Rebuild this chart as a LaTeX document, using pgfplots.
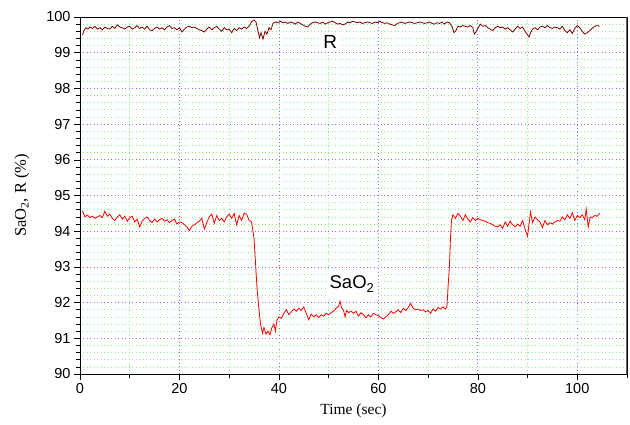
\documentclass[border=0pt]{standalone}
\usepackage{fontspec}
\setmainfont{Liberation Serif}
\newfontfamily\arial{Liberation Sans}
\usepackage{pgfplots}
\pgfplotsset{compat=1.18}
\definecolor{rcol}{RGB}{128,0,0}
\definecolor{scol}{RGB}{255,0,0}
\definecolor{mgrid}{RGB}{120,120,255}
\definecolor{ngrid}{RGB}{140,240,140}
\begin{document}
\begin{tikzpicture}
\begin{axis}[
  scale only axis, width=547pt, height=357pt,
  xmin=0, xmax=110, ymin=90, ymax=100,
  xtick={0,20,...,100}, minor xtick={10,30,...,110},
  ytick={90,91,...,100}, minor y tick num=4,
  grid=both,
  major grid style={mgrid, line width=0.7pt, dash pattern=on 0.9pt off 2.6pt},
  minor grid style={ngrid, line width=0.7pt, dash pattern=on 0.9pt off 2.6pt},
  tick align=outside, tick pos=left,
  major tick length=6pt, minor tick length=4pt,
  tick style={black, line width=0.6pt},
  axis line style={line width=0.7pt},
  ticklabel style={font=\arial\fontsize{14.5}{16}\selectfont},
  /pgf/number format/assume math mode=true,
  xlabel={Time (sec)}, ylabel={SaO\textsubscript{2}, R (\%)},
  xlabel style={font=\fontsize{15.5}{17}\selectfont, at={(axis description cs:0.5,-0.104)}, anchor=center},
  ylabel style={font=\fontsize{16.5}{18}\selectfont, at={(axis description cs:-0.106,0.5)}, anchor=center},
]
\addplot[scol, line width=0.8pt] coordinates {
(0.5,94.57)(1.0,94.40)(1.5,94.45)(2.0,94.38)(2.5,94.42)(3.0,94.36)(3.5,94.40)(4.0,94.44)(4.5,94.38)(5.0,94.56)
(5.5,94.42)(6.0,94.48)(6.5,94.36)(7.0,94.30)(7.5,94.40)(8.0,94.46)(8.5,94.34)(9.0,94.42)(9.5,94.28)(10.0,94.38)
(10.5,94.42)(11.0,94.26)(11.5,94.34)(12.0,94.12)(12.5,94.28)(13.0,94.36)(13.5,94.40)(14.0,94.30)(14.5,94.24)(15.0,94.34)
(15.5,94.26)(16.0,94.32)(16.5,94.36)(17.0,94.28)(17.5,94.32)(18.0,94.24)(18.5,94.30)(19.0,94.34)(19.5,94.20)(20.0,94.26)
(20.5,94.24)(21.0,94.18)(21.5,94.12)(22.0,94.02)(22.5,94.14)(23.0,94.18)(23.5,94.24)(24.0,94.28)(24.5,94.36)(25.0,94.06)
(25.5,94.24)(26.0,94.40)(26.5,94.48)(27.0,94.22)(27.5,94.44)(28.0,94.30)(28.5,94.36)(29.0,94.26)(29.5,94.40)(30.0,94.48)
(30.5,94.36)(31.0,94.50)(31.5,94.18)(32.0,94.44)(32.5,94.30)(33.0,94.50)(33.5,94.48)(34.0,94.30)(34.5,94.26)(35.0,93.80)
(35.3,93.10)(35.6,92.40)(36.0,91.80)(36.3,91.40)(36.7,91.14)(37.0,91.30)(37.4,91.12)(37.8,91.20)(38.2,91.10)(38.6,91.30)
(39.0,91.40)(39.3,91.20)(39.6,91.50)(40.0,91.60)(40.5,91.56)(41.0,91.70)(41.5,91.80)(42.0,91.66)(42.5,91.74)(43.0,91.82)
(43.5,91.76)(44.0,91.84)(44.5,91.78)(45.0,91.88)(45.5,91.70)(46.0,91.52)(46.5,91.68)(47.0,91.60)(47.5,91.66)(48.0,91.58)
(48.5,91.66)(49.0,91.62)(49.5,91.70)(50.0,91.66)(50.5,91.72)(51.0,91.76)(51.5,91.84)(52.0,91.90)(52.3,92.04)(52.6,91.86)
(53.0,91.78)(53.3,91.60)(53.6,91.78)(54.0,91.72)(54.5,91.76)(55.0,91.70)(55.5,91.76)(56.0,91.62)(56.5,91.72)(57.0,91.66)
(57.5,91.58)(58.0,91.66)(58.5,91.60)(59.0,91.70)(59.5,91.66)(60.0,91.64)(60.5,91.58)(61.0,91.54)(61.5,91.60)(62.0,91.66)
(62.5,91.76)(63.0,91.70)(63.5,91.74)(64.0,91.80)(64.5,91.72)(65.0,91.84)(65.5,91.78)(66.0,91.86)(66.5,91.98)(67.0,91.84)
(67.5,91.80)(68.0,91.82)(68.5,91.78)(69.0,91.80)(69.5,91.74)(70.0,91.78)(70.5,91.70)(71.0,91.82)(71.5,91.76)(72.0,91.86)
(72.5,91.82)(73.0,91.88)(73.5,91.82)(73.8,91.90)(74.0,92.40)(74.3,93.05)(74.5,93.80)(74.7,94.30)(75.0,94.46)(75.5,94.36)
(76.0,94.50)(76.5,94.42)(77.0,94.30)(77.5,94.46)(78.0,94.34)(78.5,94.26)(79.0,94.38)(79.5,94.30)(80.0,94.36)(80.5,94.32)
(81.0,94.30)(81.5,94.28)(82.0,94.24)(82.5,94.22)(83.0,94.18)(83.5,94.14)(84.0,94.12)(84.5,94.18)(85.0,94.08)(85.5,94.26)
(86.0,94.14)(86.5,94.28)(87.0,94.18)(87.5,94.12)(88.0,94.20)(88.5,94.14)(89.0,94.30)(89.5,94.06)(90.0,93.86)(90.3,94.20)
(90.6,94.54)(91.0,94.24)(91.5,94.40)(92.0,94.32)(92.5,94.26)(93.0,94.10)(93.5,94.30)(94.0,94.18)(94.5,94.24)(95.0,94.20)
(95.5,94.26)(96.0,94.30)(96.5,94.28)(97.0,94.40)(97.5,94.32)(98.0,94.46)(98.5,94.36)(99.0,94.52)(99.5,94.30)(100.0,94.44)
(100.5,94.38)(101.0,94.46)(101.5,94.32)(101.8,94.62)(102.2,94.12)(102.6,94.40)(103.0,94.38)(103.5,94.44)(104.0,94.42)(104.5,94.50)
};
\addplot[rcol, line width=0.8pt] coordinates {
(0.5,99.50)(0.8,99.62)(1.2,99.70)(1.6,99.66)(2.0,99.72)(2.5,99.68)(3.0,99.74)(3.5,99.66)(4.0,99.70)(4.5,99.64)
(5.0,99.72)(5.5,99.68)(6.0,99.66)(6.5,99.74)(7.0,99.68)(7.5,99.78)(8.0,99.72)(8.5,99.70)(9.0,99.66)(9.5,99.72)
(10.0,99.74)(10.5,99.66)(11.0,99.70)(11.5,99.76)(12.0,99.68)(12.5,99.72)(13.0,99.66)(13.5,99.74)(14.0,99.64)(14.5,99.62)
(15.0,99.68)(15.5,99.72)(16.0,99.66)(16.5,99.70)(17.0,99.64)(17.5,99.72)(18.0,99.76)(18.5,99.68)(19.0,99.70)(19.5,99.64)
(20.0,99.70)(20.5,99.58)(21.0,99.66)(21.5,99.72)(22.0,99.74)(22.5,99.70)(23.0,99.72)(23.5,99.68)(24.0,99.64)(24.5,99.62)
(25.0,99.58)(25.5,99.66)(26.0,99.72)(26.5,99.64)(27.0,99.70)(27.5,99.74)(28.0,99.66)(28.5,99.60)(29.0,99.70)(29.5,99.64)
(30.0,99.66)(30.5,99.56)(31.0,99.68)(31.5,99.62)(32.0,99.70)(32.5,99.66)(33.0,99.72)(33.5,99.68)(34.0,99.74)(34.5,99.86)
(35.0,99.92)(35.4,99.86)(35.8,99.60)(36.1,99.42)(36.4,99.56)(36.8,99.38)(37.2,99.60)(37.6,99.52)(38.0,99.70)(38.4,99.64)
(38.8,99.82)(39.3,99.86)(39.8,99.84)(40.3,99.88)(40.8,99.84)(41.3,99.86)(41.8,99.82)(42.3,99.86)(42.8,99.84)(43.3,99.80)
(43.8,99.86)(44.3,99.82)(44.8,99.78)(45.3,99.74)(45.8,99.72)(46.3,99.80)(46.8,99.84)(47.3,99.86)(47.8,99.84)(48.3,99.82)
(48.8,99.86)(49.3,99.80)(49.8,99.84)(50.3,99.86)(50.8,99.88)(51.3,99.84)(51.8,99.80)(52.3,99.82)(52.8,99.78)(53.3,99.80)
(53.8,99.86)(54.3,99.84)(54.8,99.88)(55.3,99.86)(55.8,99.84)(56.3,99.86)(56.8,99.82)(57.3,99.84)(57.8,99.86)(58.3,99.84)
(58.8,99.82)(59.3,99.86)(59.8,99.84)(60.3,99.88)(60.8,99.84)(61.3,99.82)(61.8,99.84)(62.3,99.80)(62.8,99.78)(63.3,99.76)
(63.8,99.82)(64.3,99.84)(64.8,99.86)(65.3,99.82)(65.8,99.84)(66.3,99.86)(66.8,99.84)(67.3,99.82)(67.8,99.84)(68.3,99.86)
(68.8,99.84)(69.3,99.82)(69.8,99.84)(70.3,99.86)(70.8,99.82)(71.3,99.80)(71.8,99.84)(72.3,99.82)(72.8,99.86)(73.3,99.80)
(73.8,99.86)(74.3,99.84)(74.8,99.74)(75.2,99.56)(75.6,99.62)(76.0,99.74)(76.5,99.72)(77.0,99.76)(77.5,99.74)(78.0,99.72)
(78.5,99.76)(79.0,99.70)(79.3,99.52)(79.6,99.58)(80.0,99.68)(80.5,99.80)(81.0,99.74)(81.5,99.76)(82.0,99.70)(82.5,99.66)
(83.0,99.62)(83.5,99.70)(84.0,99.74)(84.5,99.70)(85.0,99.72)(85.5,99.66)(86.0,99.70)(86.5,99.64)(87.0,99.58)(87.5,99.66)
(88.0,99.74)(88.5,99.68)(89.0,99.72)(89.5,99.60)(90.0,99.50)(90.3,99.44)(90.6,99.56)(91.0,99.66)(91.5,99.70)(92.0,99.64)
(92.5,99.72)(93.0,99.74)(93.5,99.70)(94.0,99.76)(94.5,99.70)(95.0,99.68)(95.5,99.72)(96.0,99.70)(96.5,99.66)(97.0,99.74)
(97.5,99.62)(98.0,99.56)(98.5,99.64)(99.0,99.54)(99.5,99.68)(100.0,99.76)(100.5,99.70)(101.0,99.60)(101.5,99.52)(102.0,99.56)
(102.5,99.62)(103.0,99.68)(103.5,99.74)(104.0,99.76)(104.5,99.74)
};
\node[fill=white, inner sep=3pt, font=\arial\fontsize{19}{21}\selectfont] at (axis cs:50.3,99.3) {R};
\node[fill=white, inner xsep=4pt, inner ysep=5pt, font=\arial\fontsize{18.5}{20}\selectfont] at (axis cs:54.7,92.52) {SaO\textsubscript{2}};
\draw[black!60, line width=2pt] (rel axis cs:1,0) -- (rel axis cs:1,1);
\end{axis}
\path (current axis.south west) ++(-80pt,-50pt) coordinate (bbA);
\path (current axis.north east) ++(3pt,17pt) coordinate (bbB);
\path (bbA) rectangle (bbB);
\end{tikzpicture}
\end{document}
